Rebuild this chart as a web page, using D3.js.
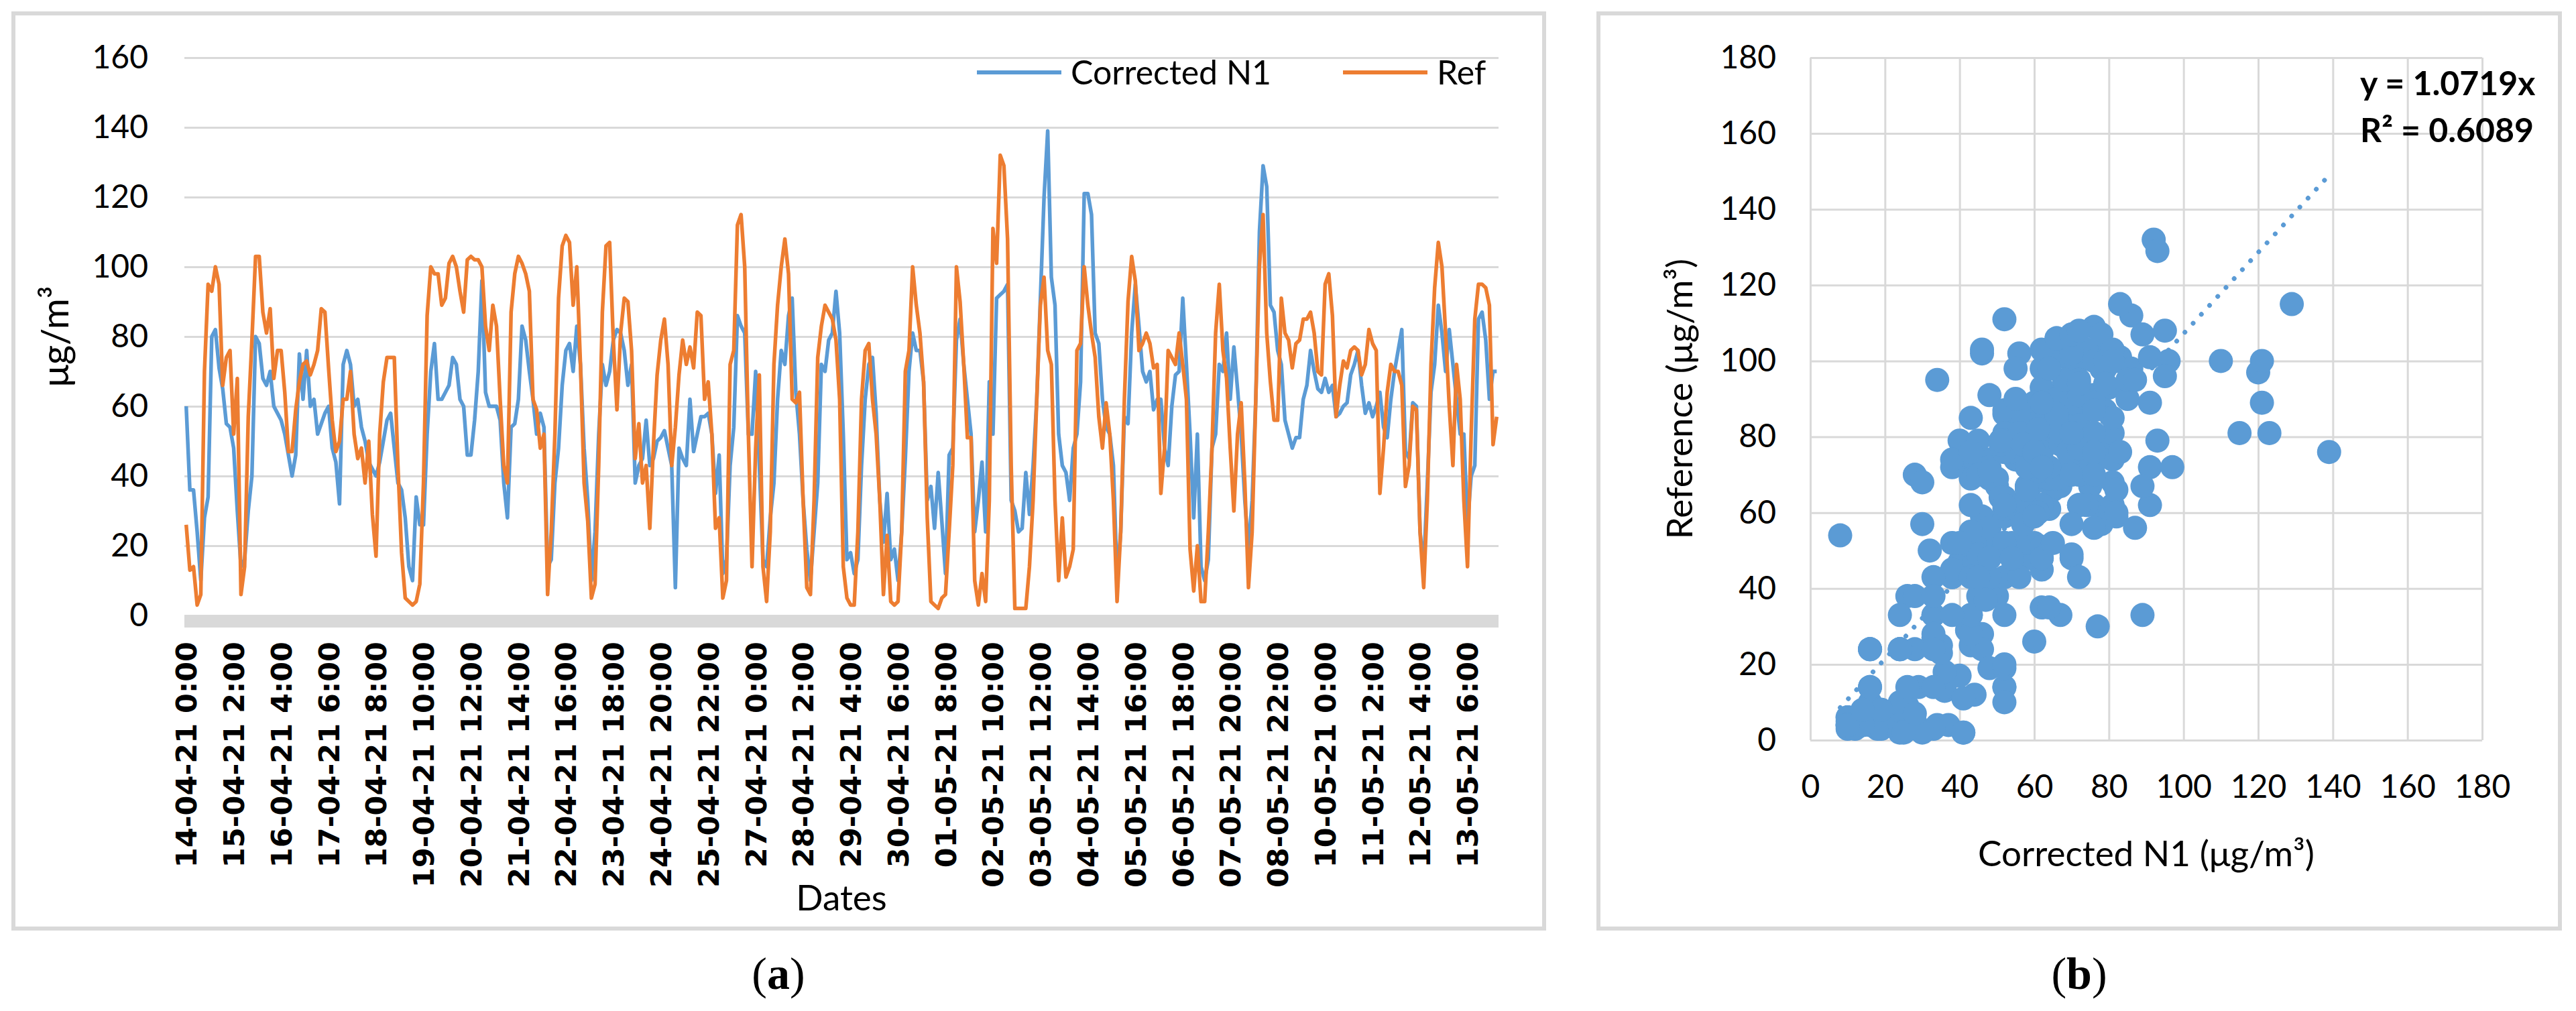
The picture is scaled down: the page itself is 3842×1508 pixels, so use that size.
<!DOCTYPE html>
<html>
<head>
<meta charset="utf-8">
<script src="https://cdn.jsdelivr.net/npm/d3@7"></script>
<style>
  body { margin: 0; background: #fff; }
  svg { display: block; }
</style>
</head>
<body>
<svg id="fig" width="3842" height="1508"></svg>
<script>
// one label every 26 hours (every 13th two-hourly sample)
const dateLabels = ["14-04-21 0:00","15-04-21 2:00","16-04-21 4:00","17-04-21 6:00","18-04-21 8:00",
  "19-04-21 10:00","20-04-21 12:00","21-04-21 14:00","22-04-21 16:00","23-04-21 18:00","24-04-21 20:00",
  "25-04-21 22:00","27-04-21 0:00","28-04-21 2:00","29-04-21 4:00","30-04-21 6:00","01-05-21 8:00",
  "02-05-21 10:00","03-05-21 12:00","04-05-21 14:00","05-05-21 16:00","06-05-21 18:00","07-05-21 20:00",
  "08-05-21 22:00","10-05-21 0:00","11-05-21 2:00","12-05-21 4:00","13-05-21 6:00"]

// two-hourly readings, one row per day (14-04 .. 13-05)
const correctedN1 = [
  60,36,36,24,10,28,34,80,82,71,65,55,
  54,48,30,14,16,30,40,80,78,68,66,70,
  60,58,56,52,46,40,46,75,62,76,60,62,
  52,55,58,60,48,44,32,72,76,72,60,62,
  54,50,44,42,40,44,50,56,58,48,38,36,
  28,14,10,34,26,26,52,70,78,62,62,64,
  66,74,72,62,60,46,46,56,70,96,64,60,
  60,60,56,38,28,54,55,62,83,79,70,62,
  52,58,54,14,16,38,48,66,76,78,70,83,
  72,48,33,10,24,52,72,66,70,79,82,81,
  76,66,72,38,43,45,56,43,45,50,51,53,
  48,43,8,48,45,43,62,47,52,57,57,58,
  52,35,46,12,16,43,54,86,83,81,52,52,
  70,43,16,14,28,38,62,76,72,86,91,64,
  52,33,19,10,24,38,72,70,79,81,93,81,
  52,16,18,12,16,43,62,72,74,58,33,21,
  35,16,19,10,24,45,70,81,76,76,67,33,
  37,25,41,27,12,46,48,79,85,72,62,52,
  24,33,44,24,67,52,91,92,93,95,33,30,
  24,25,41,29,43,62,91,120,139,97,89,52,
  43,41,33,48,52,67,121,121,115,81,78,62,
  54,52,43,10,24,57,55,81,95,83,70,67,
  70,59,62,62,48,43,60,69,70,91,72,52,
  28,52,14,10,16,48,52,72,70,81,62,77,
  65,52,33,19,33,62,110,129,123,89,87,76,
  72,56,52,48,51,51,62,66,76,70,65,64,
  68,64,66,57,58,60,61,69,72,76,66,58,
  61,57,60,64,54,51,62,70,76,82,47,45,
  61,60,24,14,38,64,72,89,81,70,82,72,
  62,52,52,26,40,43,85,87,79,62,70,70]

const reference = [
  26,13,14,3,6,70,95,93,100,95,66,74,
  76,52,68,6,14,57,79,103,103,87,81,88,
  68,76,76,64,47,47,59,67,72,73,69,72,
  76,88,87,71,56,47,50,62,62,70,52,45,
  48,38,50,29,17,52,67,74,74,74,43,18,
  5,4,3,4,9,38,86,100,98,98,89,91,
  101,103,100,93,87,102,103,102,102,100,83,76,
  89,83,62,43,38,87,98,103,101,98,93,62,
  59,48,52,6,24,52,91,106,109,107,89,100,
  72,38,27,5,9,43,87,106,107,79,59,81,
  91,90,76,45,55,38,43,25,49,69,79,85,
  72,43,54,69,79,72,77,71,87,86,62,67,
  52,25,28,5,10,72,76,112,115,100,52,14,
  48,69,14,4,24,72,89,100,108,98,62,61,
  64,33,8,6,33,74,83,89,87,85,79,62,
  14,5,3,3,24,62,76,78,62,52,33,6,
  23,4,3,4,24,70,76,100,89,81,67,28,
  4,3,2,5,6,24,43,100,90,72,51,51,
  10,3,12,4,33,111,101,132,129,108,43,2,
  2,2,2,14,33,62,89,97,76,72,33,10,
  28,11,14,19,76,78,100,89,81,74,57,48,
  61,52,33,4,24,62,90,103,96,76,78,81,
  78,71,72,35,48,76,74,72,81,72,62,19,
  7,20,4,4,24,48,81,95,76,68,48,30,
  52,61,38,8,24,62,100,115,81,67,56,56,
  91,81,79,71,78,79,85,85,87,81,70,69,
  95,98,86,57,66,73,71,76,77,76,69,72,
  82,78,76,35,48,64,72,70,70,66,37,43,
  60,59,24,8,33,72,94,107,100,81,60,43,
  72,62,33,14,52,85,95,95,94,89,49,57]

const lineTicks = [0,20,40,60,80,100,120,140,160]
const scatterTicks = [0,20,40,60,80,100,120,140,160,180]
const seriesNames = ["Corrected N1", "Ref"]
const slope = 1.0719, rSquared = 0.6089

const blue = "#5B9BD5", orange = "#ED7D31", grid = "#D9D9D9"
const sans = "Lato, 'Open Sans', sans-serif"
const svg = d3.select("#fig")

svg.append("rect").attr("width", 3842).attr("height", 1508).attr("fill", "#fff")

// panel frames
svg.append("rect").attr("x", 20).attr("y", 20).attr("width", 2283).attr("height", 1365)
    .attr("fill", "none").attr("stroke", grid).attr("stroke-width", 6)
svg.append("rect").attr("x", 2384).attr("y", 20).attr("width", 1434).attr("height", 1365)
    .attr("fill", "none").attr("stroke", grid).attr("stroke-width", 6)

// ---------- (a) time series ----------
const x = d3.scaleBand().domain(d3.range(correctedN1.length)).range([275, 2235])
const y = d3.scaleLinear().domain([0, 160]).range([918, 86])
const cx = i => x(i) + x.bandwidth() / 2

svg.append("g")
    .attr("transform", "translate(275,0)")
    .call(d3.axisLeft(y).tickValues(lineTicks).tickSize(0).tickPadding(54))
    .call(g => g.selectAll(".tick line").clone()
        .attr("x2", 1960)
        .attr("stroke", grid)
        .attr("stroke-width", 3))
    .call(g => g.selectAll("text").style("font", `48px ${sans}`).attr("fill", "#000"))
    .select(".domain").remove()

svg.append("rect").attr("x", 275).attr("y", 918).attr("width", 1960).attr("height", 18).attr("fill", grid)

svg.append("g")
    .attr("transform", "translate(0,957)")
    .call(d3.axisBottom(x).tickValues(d3.range(0, correctedN1.length, 13)).tickSize(0)
        .tickFormat(i => dateLabels[i / 13]))
    .call(g => g.selectAll("text")
        .attr("transform", "rotate(-90)")
        .attr("x", 0).attr("y", 0).attr("dy", "0.36em")
        .attr("text-anchor", "end")
        .attr("fill", "#000")
        .style("font", "bold 43px 'DejaVu Sans', sans-serif"))
    .select(".domain").remove()

const line = d3.line().x((d, i) => cx(i)).y(d => y(d))

svg.append("path").datum(correctedN1)
    .attr("d", line).attr("fill", "none")
    .attr("stroke", blue).attr("stroke-width", 5.5).attr("stroke-linejoin", "round")
svg.append("path").datum(reference)
    .attr("d", line).attr("fill", "none")
    .attr("stroke", orange).attr("stroke-width", 5.5).attr("stroke-linejoin", "round")

// legend
const legend = svg.append("g").selectAll("g")
    .data(seriesNames)
    .join("g")
        .attr("transform", (d, i) => `translate(${i ? 2003 : 1457},108)`)
legend.append("line").attr("x2", 126)
    .attr("stroke", (d, i) => i ? orange : blue).attr("stroke-width", 6)
legend.append("text").attr("x", 140).attr("y", 18)
    .style("font", `50px ${sans}`).text(d => d)

svg.append("text").attr("x", 1255).attr("y", 1358).attr("text-anchor", "middle")
    .style("font", `53px ${sans}`).text("Dates")
svg.append("text").attr("transform", "translate(102,502) rotate(-90)").attr("text-anchor", "middle")
    .style("font", `56px ${sans}`)
    .text("μg/m³")

// ---------- (b) scatter ----------
const sx = d3.scaleLinear().domain([0, 180]).range([2700, 3702])
const sy = d3.scaleLinear().domain([0, 180]).range([1104, 86])

svg.append("g")
    .attr("transform", "translate(2700,0)")
    .call(d3.axisLeft(sy).tickValues(scatterTicks).tickSize(0).tickPadding(51))
    .call(g => g.selectAll(".tick line").clone()
        .attr("x2", 1002)
        .attr("stroke", grid)
        .attr("stroke-width", 3))
    .call(g => g.selectAll("text").style("font", `48px ${sans}`).attr("fill", "#000"))
    .select(".domain").remove()

svg.append("g")
    .attr("transform", "translate(0,1104)")
    .call(d3.axisBottom(sx).tickValues(scatterTicks).tickSize(0).tickPadding(52))
    .call(g => g.selectAll(".tick line").clone()
        .attr("y2", -1018)
        .attr("stroke", grid)
        .attr("stroke-width", 3))
    .call(g => g.selectAll("text").style("font", `48px ${sans}`).attr("fill", "#000"))
    .select(".domain").remove()

// trend line through the origin, drawn under the markers
const xExt = d3.extent(correctedN1)
svg.append("line")
    .attr("x1", sx(xExt[0])).attr("y1", sy(slope * xExt[0]))
    .attr("x2", sx(xExt[1])).attr("y2", sy(slope * xExt[1]))
    .attr("stroke", blue).attr("stroke-width", 7)
    .attr("stroke-linecap", "round").attr("stroke-dasharray", "0.1 18")

svg.append("g").selectAll("circle")
    .data(correctedN1)
    .join("circle")
        .attr("cx", d => sx(d))
        .attr("cy", (d, i) => sy(reference[i]))
        .attr("r", 18)
        .attr("fill", blue)

svg.append("text").attr("x", 3520).attr("y", 142)
    .style("font", `bold 50px ${sans}`).text(`y = ${slope}x`)
svg.append("text").attr("x", 3520).attr("y", 212)
    .style("font", `bold 50px ${sans}`).text(`R² = ${rSquared}`)

svg.append("text").attr("x", 3201).attr("y", 1292).attr("text-anchor", "middle")
    .style("font", `53px ${sans}`).text("Corrected N1 (μg/m³)")
svg.append("text").attr("transform", "translate(2524,595) rotate(-90)").attr("text-anchor", "middle")
    .style("font", `53px ${sans}`).text("Reference (μg/m³)")

// panel captions
const caption = svg.append("g").selectAll("text")
    .data([["a", 1161], ["b", 3101]])
    .join("text")
        .attr("x", d => d[1]).attr("y", 1475)
        .attr("text-anchor", "middle")
        .style("font", "68px 'Liberation Serif', serif")
caption.append("tspan").text("(")
caption.append("tspan").attr("font-weight", "bold").text(d => d[0])
caption.append("tspan").text(")")
</script>
</body>
</html>
